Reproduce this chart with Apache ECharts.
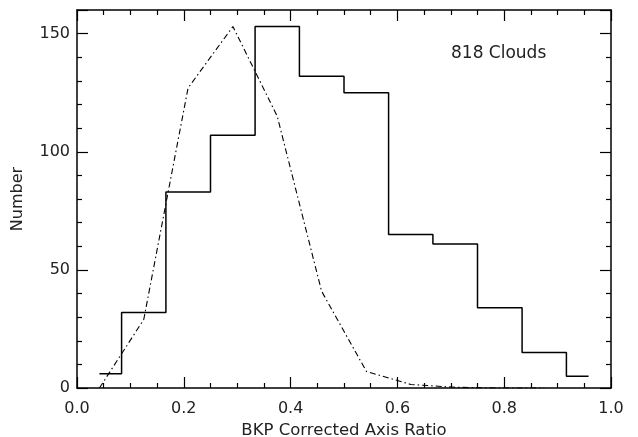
<!DOCTYPE html>
<html>
<head>
<meta charset="utf-8">
<script src="https://cdn.jsdelivr.net/npm/echarts@6/dist/echarts.min.js"></script>
<style>
  html, body { margin: 0; padding: 0; background: #fff; }
  #chart { width: 638px; height: 437px; }
</style>
</head>
<body>
<div id="chart"></div>
<script>
// bin centres of the axis-ratio histogram (bin width 1/12)
const binCenters = [0.042, 0.125, 0.208, 0.292, 0.375, 0.458, 0.542, 0.625, 0.708, 0.792, 0.875, 0.958];
const cloudCounts = [6, 32, 83, 107, 153, 132, 125, 65, 61, 34, 15, 5];
// dash-dot comparison curve
const modelX = [0.042, 0.125, 0.208, 0.292, 0.375, 0.458, 0.542, 0.625, 0.708, 0.792, 0.875];
const modelY = [0, 29, 127, 153, 115, 41, 7, 1.5, 0.3, 0, 0];
const xTicks = [0, 0.2, 0.4, 0.6, 0.8, 1.0];
const yTicks = [0, 50, 100, 150];
const noteText = "818 Clouds";

const FONT = "DejaVu Sans";
const INK = "#000";
const TEXT = "#222";

function pairs(xs, ys) {
  return xs.map((x, i) => [x, ys[i]]);
}

function mirrorAxis(base) {
  return Object.assign({}, base, {
    axisLabel: { show: false },
    name: ""
  });
}

const xBase = {
  type: "value",
  min: xTicks[0],
  max: xTicks[xTicks.length - 1],
  interval: 0.2,
  axisLine: { show: true, onZero: false, lineStyle: { color: INK, width: 1.5 } },
  axisTick: { show: true, inside: true, length: 11, lineStyle: { color: INK, width: 1.2 } },
  minorTick: { show: true, splitNumber: 4, length: 5, lineStyle: { color: INK, width: 1.2 } },
  splitLine: { show: false },
  axisLabel: {
    margin: 13, color: TEXT, fontFamily: FONT, fontSize: 16,
    formatter: v => v.toFixed(1)
  }
};

const yBase = {
  type: "value",
  min: yTicks[0],
  max: 160,
  interval: 50,
  axisLine: { show: true, onZero: false, lineStyle: { color: INK, width: 1.5 } },
  axisTick: { show: true, inside: true, length: 11, lineStyle: { color: INK, width: 1.2 } },
  minorTick: { show: true, splitNumber: 5, length: 5, lineStyle: { color: INK, width: 1.2 } },
  splitLine: { show: false },
  axisLabel: {
    margin: 7, color: TEXT, fontFamily: FONT, fontSize: 16,
    formatter: v => (yTicks.includes(v) ? String(v) : "")
  }
};

const chart = echarts.init(document.getElementById("chart"), null, { renderer: "canvas" });
chart.setOption({
  animation: false,
  backgroundColor: "#fff",
  grid: { left: 77, right: 27, top: 10, bottom: 49, containLabel: false, outerBoundsMode: "none" },
  title: {
    text: noteText,
    left: 451, top: 45, padding: 0,
    textStyle: { color: TEXT, fontFamily: FONT, fontSize: 17, fontWeight: "normal" }
  },
  xAxis: [
    Object.assign({}, xBase, {
      position: "bottom",
      name: "BKP Corrected Axis Ratio",
      nameLocation: "middle",
      nameGap: 34,
      nameTextStyle: { color: TEXT, fontFamily: FONT, fontSize: 16.5 }
    }),
    mirrorAxis(Object.assign({}, xBase, { position: "top" }))
  ],
  yAxis: [
    Object.assign({}, yBase, {
      position: "left",
      name: "Number",
      nameLocation: "middle",
      nameRotate: 90,
      nameGap: 51,
      nameTextStyle: { color: TEXT, fontFamily: FONT, fontSize: 16 }
    }),
    mirrorAxis(Object.assign({}, yBase, { position: "right" }))
  ],
  series: [
    {
      name: "clouds",
      type: "line",
      step: "middle",
      data: pairs(binCenters, cloudCounts),
      showSymbol: false,
      lineStyle: { color: INK, width: 1.5 },
      z: 3
    },
    {
      name: "model",
      type: "line",
      data: pairs(modelX, modelY),
      showSymbol: false,
      lineStyle: { color: INK, width: 1.1, type: [6, 3, 1.5, 3] },
      z: 2
    }
  ]
});
</script>
</body>
</html>
